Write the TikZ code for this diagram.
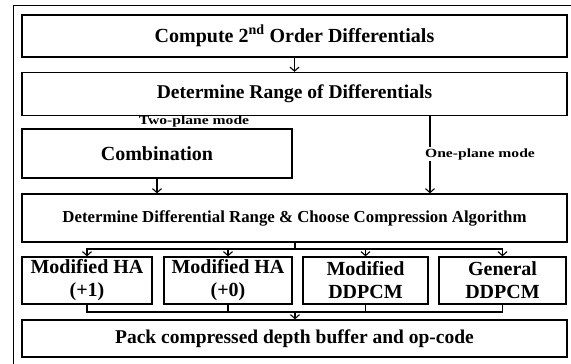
\documentclass[tikz,border=0pt]{standalone}
\usepackage{fontspec}
\setmainfont{Liberation Serif}
\newfontfamily\lblfont[FakeStretch=1.25]{Liberation Serif}
\usetikzlibrary{arrows.meta}
\begin{document}
\begin{tikzpicture}[x=1pt,y=-1pt,
  box/.style={draw,line width=1.3pt,inner sep=0pt,align=center,font=\bfseries},
  conn/.style={line width=1.1pt},
  arr/.style={conn,-{Straight Barb[length=4pt,width=9pt,line width=1.1pt]}},
  lbl/.style={font=\lblfont\bfseries\fontsize{12.5}{14}\selectfont,inner sep=1pt}]
\useasboundingbox (0,0) rectangle (571,364);
\coordinate (fbl) at (13.5,364);
\coordinate (ftl) at (13.5,5.5);
\coordinate (ftr) at (571,5.5);
\draw[line width=1.3pt] (fbl) -- (ftl) -- (ftr);

\node[box,minimum width=545pt,minimum height=42pt,font=\bfseries\fontsize{20}{22}\selectfont] (b1) at (294.5,36) {Compute 2\textsuperscript{nd} Order Differentials};
\node[box,minimum width=545pt,minimum height=43pt,font=\bfseries\fontsize{19.5}{22}\selectfont] (b2) at (294.5,94) {Determine Range of Differentials};
\node[box,minimum width=270pt,minimum height=49pt,font=\bfseries\fontsize{20}{22}\selectfont] (comb) at (157,153.5) {Combination};
\node[box,minimum width=545pt,minimum height=48pt,font=\bfseries\fontsize{16.8}{19}\selectfont] (b3) at (294.5,218) {Determine Differential Range \& Choose Compression Algorithm};
\node[box,minimum width=130pt,minimum height=47pt,font=\bfseries\fontsize{20}{23}\selectfont] (ma) at (87,280.5) {Modified HA\\(+1)};
\node[box,minimum width=128pt,minimum height=47pt,font=\bfseries\fontsize{20}{23}\selectfont] (mb) at (228,280.5) {Modified HA\\(+0)};
\node[box,minimum width=125pt,minimum height=47pt,font=\bfseries\fontsize{20}{23}\selectfont] (mc) at (365.5,280.5) {Modified\\DDPCM};
\node[box,minimum width=127pt,minimum height=47pt,font=\bfseries\fontsize{20}{23}\selectfont] (md) at (502.5,280.5) {General\\DDPCM};
\node[box,minimum width=545pt,minimum height=37pt,font=\bfseries\fontsize{19.5}{22}\selectfont] (pack) at (294.5,338.5) {Pack compressed depth buffer and op-code};

\draw[arr] (b1.south) -- (b2.north);
\coordinate (op) at (430,0);
\draw[arr] (b2.south -| op) -- (b3.north -| op);
\node[lbl,fill=white] (onel) at (480,154) {One-plane mode};
\node[lbl] (twol) at (194,121) {Two-plane mode};
\draw[arr] (comb.south) -- (b3.north -| comb);

\coordinate (j1) at (295,249);
\draw[conn] (b3.south -| j1) -- (j1);
\draw[arr] (j1) -| (ma.north);
\draw[arr] (j1) -| (mb.north);
\draw[arr] (j1) -| (mc.north);
\draw[arr] (j1) -| (md.north);

\coordinate (j2) at (295,312);
\draw[conn] (ma.south) |- (j2);
\draw[conn] (mb.south) |- (j2);
\draw[conn] (mc.south) |- (j2);
\draw[conn] (md.south) |- (j2);
\draw[arr] (j2) -- (pack.north -| j2);
\end{tikzpicture}
\end{document}
